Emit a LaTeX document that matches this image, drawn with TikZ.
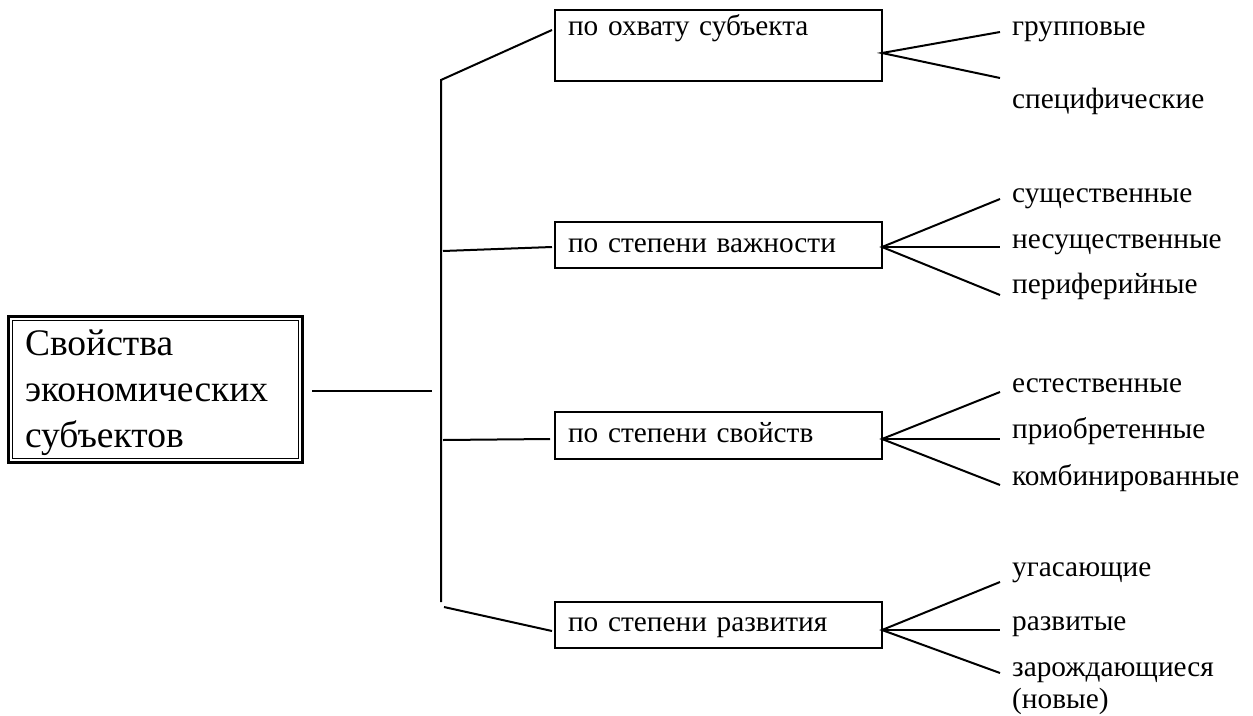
\documentclass[tikz,border=0pt]{standalone}
\usepackage{fontspec}
\setmainfont{Liberation Serif}
\begin{document}
\begin{tikzpicture}[x=1pt,y=-1pt,
  cat/.style={draw, line width=2pt, anchor=north west, outer sep=0pt, minimum width=327pt, inner xsep=13pt, inner ysep=0pt, text width=301pt, align=left, font=\fontsize{29.3}{33}\selectfont},
  leaf/.style={anchor=base west, inner sep=0pt, align=left, font=\fontsize{29.3}{32}\selectfont},
  conn/.style={line width=2pt}]
\useasboundingbox (0,0) rectangle (1253,715);
% main box
\node[draw, line width=3pt, outer sep=0pt, minimum width=294pt, minimum height=146pt, inner xsep=17pt, text width=260pt, align=left, font=\fontsize{37.5}{46}\selectfont] (main) at (155,389) {\rule{0pt}{34pt}Свойства\\экономических\\субъектов};
\draw[line width=1pt] ([xshift=4pt,yshift=-4pt]main.north west) rectangle ([xshift=-4pt,yshift=4pt]main.south east);
% categories
\node[cat, text height=25pt, text depth=46pt] (c1) at (555,10) {по охвату субъекта};
\node[cat, text height=30pt, text depth=16pt] (c2) at (555,222) {по степени важности};
\node[cat, text height=30pt, text depth=17pt] (c3) at (555,412) {по степени свойств};
\node[cat, text height=29pt, text depth=17pt] (c4) at (555,602) {по степени развития};
% leaves
\node[leaf] (l11) at (1012,35) {групповые};
\node[leaf] (l12) at (1012,108) {специфические};
\node[leaf] (l21) at (1012,202) {существенные};
\node[leaf] (l22) at (1012,248) {несущественные};
\node[leaf] (l23) at (1012,293) {периферийные};
\node[leaf] (l31) at (1012,392) {естественные};
\node[leaf] (l32) at (1012,438) {приобретенные};
\node[leaf] (l33) at (1012,485) {комбинированные};
\node[leaf] (l41) at (1012,576) {угасающие};
\node[leaf] (l42) at (1012,630) {развитые};
\node[leaf] (l43) at (1012,708) {зарождающиеся\\(новые)};
% trunk coordinates
\coordinate (m0) at (312,391);
\coordinate (m1) at (432,391);
\coordinate (tt) at (441,80);
\coordinate (tb) at (441,602);
\coordinate (p1) at (552,30);
\coordinate (s2) at (443,251);
\coordinate (p2) at (552,247);
\coordinate (s3) at (443,440);
\coordinate (p3) at (550,439);
\coordinate (s4) at (444,607);
\coordinate (p4) at (552,631);
\draw[conn] (m0) -- (m1);
\draw[conn] (p1) -- (tt) -- (tb);
\draw[conn] (s2) -- (p2);
\draw[conn] (s3) -- (p3);
\draw[conn] (s4) -- (p4);
% fan coordinates
\coordinate (a1) at (882,53);
\coordinate (e11) at (1000,32);
\coordinate (e12) at (1000,78);
\coordinate (a2) at (882,247);
\coordinate (e21) at (1000,199);
\coordinate (e22) at (1000,247);
\coordinate (e23) at (1000,295);
\coordinate (a3) at (882,439);
\coordinate (e31) at (1000,392);
\coordinate (e32) at (1000,439);
\coordinate (e33) at (1000,485);
\coordinate (a4) at (882,630);
\coordinate (e41) at (1000,582);
\coordinate (e42) at (1000,630);
\coordinate (e43) at (1000,673);
\draw[conn] (e11) -- (a1) -- (e12);
\draw[conn] (e21) -- (a2) -- (e23);
\draw[conn] (a2) -- (e22);
\draw[conn] (e31) -- (a3) -- (e33);
\draw[conn] (a3) -- (e32);
\draw[conn] (e41) -- (a4) -- (e43);
\draw[conn] (a4) -- (e42);
\end{tikzpicture}
\end{document}
